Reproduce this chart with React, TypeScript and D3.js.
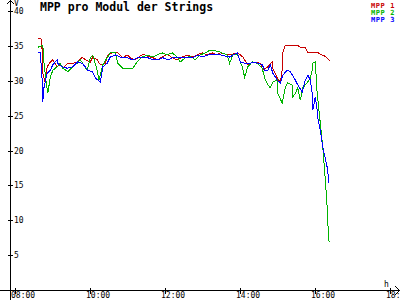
import React from "react";
import * as d3 from "d3";

const title = "MPP pro Modul der Strings";
const seriesNames = ["MPP 1", "MPP 2", "MPP 3"];
const seriesColors = ["#c80000", "#00b400", "#0000ff"];
const yTicks = [5, 10, 15, 20, 25, 30, 35, 40];
const xTicks = ["08:00", "10:00", "12:00", "14:00", "16:00", "18:00"];

const mpp1Times = ["08:36","08:41","08:43","08:44","08:48","08:51","08:56","09:00","09:07","09:12","09:16","09:24","09:32","09:40","09:47","09:52","10:00","10:04","10:11","10:16","10:24","10:28","10:36","10:44","10:52","10:59","11:04","11:12","11:16","11:24","11:32","11:40","11:48","11:55","12:03","12:11","12:19","12:27","12:35","12:43","12:51","12:59","13:07","13:15","13:23","13:28","13:43","13:56","14:04","14:12","14:20","14:32","14:36","14:44","14:51","14:52","14:59","15:04","15:07","15:08","15:12","15:16","15:23","15:31","15:36","15:44","15:48","15:56","16:03","16:08","16:16","16:24"];
const mpp1Values = [36.0,36.1,34.4,31.1,29.7,32.0,32.7,33.0,32.0,32.3,31.8,32.5,32.5,32.7,33.4,33.0,32.7,33.4,33.0,32.3,32.5,33.7,34.0,34.0,33.3,33.7,33.3,33.0,33.3,33.8,33.5,33.3,33.0,33.4,33.8,33.3,33.0,33.4,33.7,33.4,33.7,34.0,33.7,34.0,33.7,34.0,33.7,34.0,33.4,32.3,32.7,32.5,31.5,32.0,32.7,31.8,30.4,29.8,31.5,34.0,35.1,35.1,35.0,35.1,34.8,34.7,34.1,34.0,34.1,33.8,33.5,32.8];

const mpp2Times = ["08:36","08:44","08:46","08:49","08:52","08:56","09:00","09:07","09:12","09:16","09:24","09:32","09:39","09:44","09:48","09:55","10:00","10:04","10:11","10:14","10:20","10:27","10:32","10:40","10:44","10:52","11:08","11:15","11:23","11:31","11:39","11:47","11:55","12:03","12:11","12:19","12:24","12:32","12:40","12:48","12:56","13:04","13:12","13:20","13:28","13:39","13:43","13:48","13:56","14:03","14:07","14:12","14:19","14:27","14:35","14:39","14:44","14:48","14:52","14:59","15:00","15:07","15:12","15:16","15:23","15:24","15:28","15:32","15:36","15:40","15:47","15:52","15:55","15:56","16:00","16:03","16:08","16:12","16:16","16:19","16:20","16:22"];
const mpp2Values = [34.8,35.1,32.5,30.1,28.2,30.5,31.5,32.0,32.5,31.8,31.3,32.0,32.5,33.0,32.5,31.5,33.3,33.7,31.5,30.1,32.3,33.3,34.0,34.0,32.5,31.8,31.8,32.7,33.4,33.7,33.4,33.7,34.0,33.7,34.0,33.4,32.7,33.3,33.5,33.0,33.7,34.0,34.4,34.3,34.1,33.7,32.5,33.7,33.7,32.0,30.5,32.0,32.7,32.5,31.8,30.4,29.4,29.0,29.8,30.1,28.2,26.8,29.0,29.7,29.4,27.7,28.2,29.0,27.2,29.0,29.7,30.4,31.5,32.5,32.7,28.2,23.9,20.5,15.8,11.9,9.6,6.9];

const mpp3Times = ["08:36","08:40","08:43","08:44","08:46","08:51","08:56","09:00","09:07","09:08","09:15","09:23","09:32","09:40","09:47","09:52","09:56","10:03","10:08","10:16","10:20","10:27","10:32","10:40","10:48","10:59","11:08","11:16","11:24","11:32","11:40","11:48","11:56","12:04","12:12","12:20","12:28","12:36","12:44","12:52","13:00","13:08","13:16","13:24","13:28","13:43","13:55","14:00","14:07","14:16","14:20","14:28","14:35","14:39","14:44","14:48","14:52","14:59","15:04","15:08","15:15","15:20","15:28","15:32","15:39","15:44","15:48","15:52","15:55","15:56","16:00","16:03","16:04","16:08","16:12","16:19","16:22"];
const mpp3Values = [34.1,34.0,30.1,27.0,29.1,31.1,31.5,32.3,33.0,32.5,32.0,31.8,32.0,32.7,32.5,32.0,31.5,31.3,30.4,29.8,32.0,32.5,33.4,33.7,33.4,33.3,33.0,33.3,33.4,33.3,33.0,33.0,33.3,33.0,33.3,33.4,33.3,33.4,33.3,33.7,33.4,33.7,33.7,33.8,33.7,33.4,34.0,32.7,32.5,32.5,32.7,32.5,32.3,31.5,31.5,32.3,31.1,30.1,29.7,30.8,31.5,31.3,30.1,29.4,28.4,30.1,30.8,30.1,28.2,25.8,27.7,25.8,24.7,22.9,20.5,17.6,15.3];

const seriesTimes = [mpp1Times, mpp2Times, mpp3Times];
const seriesValues = [mpp1Values, mpp2Values, mpp3Values];

const toMin = (s: string) => {
  const [h, m] = s.split(":").map(Number);
  return h * 60 + m;
};

export default function App() {
  const W = 400, H = 300;
  const x = d3.scaleLinear().domain([toMin("08:00"), toMin("18:00")]).range([15.3, 390.3]);
  const y = d3.scaleLinear().domain([0, 40]).range([290, 11]);
  const axisX = 10.5;
  const axisY = 290.5;
  const font = "'DejaVu Sans Mono', monospace";
  const line = d3
    .line<[number, number]>()
    .x((d) => x(d[0]))
    .y((d) => y(d[1]));

  return (
    <svg
      width={W}
      height={H}
      style={{ position: "absolute", left: 0, top: 0, background: "#fff" }}
    >
      <rect x={0} y={0} width={W} height={H} fill="#fff" />
      {seriesTimes.map((times, i) => {
        const pts = times.map((t, j) => [toMin(t), seriesValues[i][j]] as [number, number]);
        return (
          <path
            key={i}
            d={line(pts) || ""}
            fill="none"
            stroke={seriesColors[i]}
            strokeWidth={1}
            shapeRendering="crispEdges"
          />
        );
      })}
      <g stroke="#000" strokeWidth={1} shapeRendering="crispEdges" fill="none">
        <line x1={axisX} y1={0} x2={axisX} y2={300} />
        <line x1={0} y1={axisY} x2={399} y2={axisY} />
        <path d={`M7,4 L${axisX},0.5 L14,4`} />
        <path d={`M395,286 L399.5,290.5 L395,295`} />
        {yTicks.map((v) => (
          <line key={v} x1={8} x2={13} y1={Math.round(y(v)) + 0.5} y2={Math.round(y(v)) + 0.5} />
        ))}
        {xTicks.map((t) => (
          <line key={t} x1={Math.round(x(toMin(t))) + 0.5} x2={Math.round(x(toMin(t))) + 0.5} y1={288} y2={294} />
        ))}
      </g>
      <g fontFamily={font} fontSize={8} fill="#000">
        {yTicks.map((v) => (
          <text key={v} x={14} y={Math.round(y(v)) + 3}>
            {v}
          </text>
        ))}
        {xTicks.map((t) => (
          <text key={t} x={Math.round(x(toMin(t))) - 4} y={298}>
            {t}
          </text>
        ))}
        <text x={14} y={6}>V</text>
        <text x={384} y={287}>h</text>
      </g>
      <text x={40} y={11} fontFamily={font} fontSize={11.5} fontWeight="bold" fill="#000">
        {title}
      </text>
      <g fontFamily={font} fontSize={7} fontWeight="bold" letterSpacing={0.6}>
        {seriesNames.map((n, i) => (
          <text key={n} x={395} y={7.5 + i * 7} textAnchor="end" fill={seriesColors[i]}>
            {n}
          </text>
        ))}
      </g>
    </svg>
  );
}
